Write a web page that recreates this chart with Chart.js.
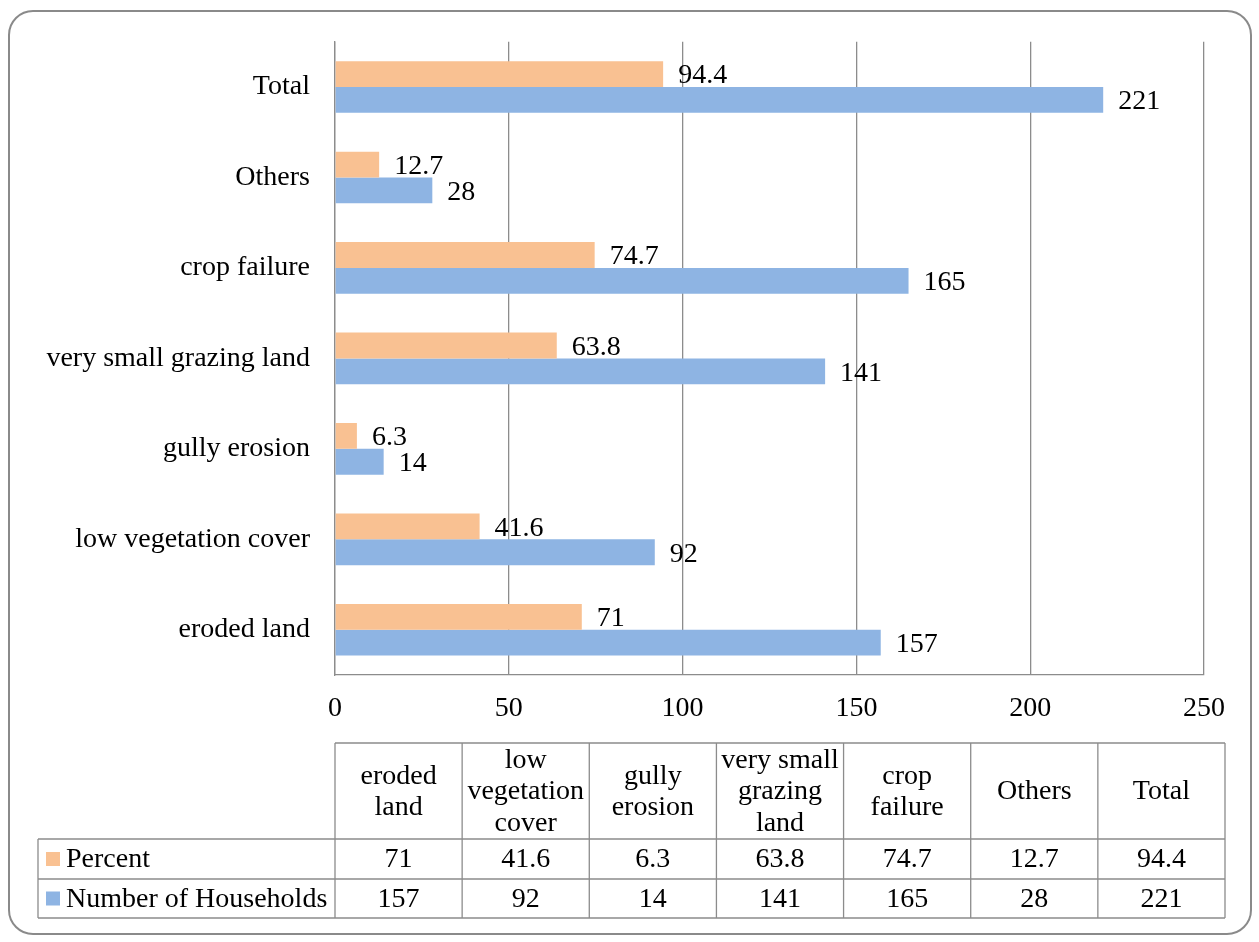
<!DOCTYPE html>
<html>
<head>
<meta charset="utf-8">
<title>Land degradation indicators</title>
<script src="https://cdn.jsdelivr.net/npm/chart.js@4.4.1/dist/chart.umd.min.js"></script>
<style>
  html, body { margin: 0; padding: 0; background: #fff; }
  canvas { display: block; }
</style>
</head>
<body>
<canvas id="degradationChart" width="1259" height="942"></canvas>
<script>
// categories in table order (bottom to top on the chart)
const categories = ['eroded land', 'low vegetation cover', 'gully erosion', 'very small grazing land', 'crop failure', 'Others', 'Total'];
const percentValues = [71, 41.6, 6.3, 63.8, 74.7, 12.7, 94.4];
const householdValues = [157, 92, 14, 141, 165, 28, 221];
const seriesNames = ['Percent', 'Number of Households'];
const seriesColors = ['#F9C192', '#8EB4E3'];
const axisMax = 250;
const axisStep = 50;

const FONT = 'Liberation Serif, Times New Roman, serif';
const FONT_SIZE = 28;
const lineGray = '#8c8c8c';

Chart.defaults.font.family = FONT;
Chart.defaults.font.size = FONT_SIZE;
Chart.defaults.color = '#000';

// rounded frame around the whole figure
const framePlugin = {
    id: 'frame',
    beforeDraw(chart) {
        const ctx = chart.ctx;
        ctx.save();
        ctx.fillStyle = '#fff';
        ctx.fillRect(0, 0, chart.width, chart.height);
        ctx.strokeStyle = '#8a8a8a';
        ctx.lineWidth = 2;
        ctx.beginPath();
        ctx.roundRect(9, 11, 1242, 923, 24);
        ctx.stroke();
        ctx.restore();
    }
};

// value printed to the right of each bar
const valueLabels = {
    id: 'valueLabels',
    afterDatasetsDraw(chart) {
        const ctx = chart.ctx;
        ctx.save();
        ctx.font = FONT_SIZE + 'px ' + FONT;
        ctx.fillStyle = '#000';
        ctx.textAlign = 'left';
        ctx.textBaseline = 'middle';
        chart.data.datasets.forEach((ds, di) => {
            chart.getDatasetMeta(di).data.forEach((bar, i) => {
                ctx.fillText(String(ds.data[i]), bar.x + 15, bar.y + 2);
            });
        });
        ctx.restore();
    }
};

// split a header into lines that fit the column
function wrapText(ctx, text, maxWidth) {
    const words = text.split(' ');
    const lines = [];
    let line = '';
    words.forEach(w => {
        const test = line ? line + ' ' + w : w;
        if (line && ctx.measureText(test).width > maxWidth) {
            lines.push(line);
            line = w;
        } else {
            line = test;
        }
    });
    if (line) lines.push(line);
    return lines;
}

// data table under the axis, with legend keys in the first column
const dataTable = {
    id: 'dataTable',
    afterDraw(chart) {
        const ctx = chart.ctx;
        const left = 38, firstCol = 335, right = 1225;
        const rows = [743, 839, 879, 918];
        const colW = (right - firstCol) / categories.length;

        ctx.save();
        ctx.strokeStyle = lineGray;
        ctx.lineWidth = 1.3;
        ctx.beginPath();
        // horizontal rules
        ctx.moveTo(firstCol, rows[0]); ctx.lineTo(right, rows[0]);
        for (let r = 1; r < rows.length; r++) {
            ctx.moveTo(left, rows[r]); ctx.lineTo(right, rows[r]);
        }
        // vertical rules
        ctx.moveTo(left, rows[1]); ctx.lineTo(left, rows[3]);
        for (let c = 0; c <= categories.length; c++) {
            const x = firstCol + c * colW;
            ctx.moveTo(x, rows[0]); ctx.lineTo(x, rows[3]);
        }
        ctx.stroke();

        ctx.font = FONT_SIZE + 'px ' + FONT;
        ctx.fillStyle = '#000';
        ctx.textBaseline = 'middle';
        ctx.textAlign = 'center';

        // header
        const lh = 31.5;
        const headMid = (rows[0] + rows[1]) / 2;
        categories.forEach((cat, c) => {
            const lines = wrapText(ctx, cat, colW - 4);
            const cx = firstCol + (c + 0.5) * colW;
            lines.forEach((ln, k) => {
                ctx.fillText(ln, cx, headMid + (k - (lines.length - 1) / 2) * lh + 1);
            });
        });

        // series rows
        const rowData = [percentValues, householdValues];
        rowData.forEach((vals, r) => {
            const mid = (rows[r + 1] + rows[r + 2]) / 2 + 1;
            ctx.fillStyle = seriesColors[r];
            ctx.fillRect(46, mid - 8, 14, 14);
            ctx.fillStyle = '#000';
            ctx.textAlign = 'left';
            ctx.fillText(seriesNames[r], 66, mid);
            ctx.textAlign = 'center';
            vals.forEach((v, c) => {
                ctx.fillText(String(v), firstCol + (c + 0.5) * colW, mid);
            });
        });
        ctx.restore();
    }
};

const ctx = document.getElementById('degradationChart').getContext('2d');
const chart = new Chart(ctx, {
    type: 'bar',
    data: {
        labels: categories,
        datasets: [{
            label: seriesNames[0],
            data: percentValues,
            backgroundColor: seriesColors[0],
            borderWidth: 0
        },
        {
            label: seriesNames[1],
            data: householdValues,
            backgroundColor: seriesColors[1],
            borderWidth: 0
        }]
    },
    options: {
        indexAxis: 'y',
        responsive: false,
        animation: false,
        devicePixelRatio: 1,
        categoryPercentage: 0.571,
        barPercentage: 1,
        layout: {
            padding: { top: 40, right: 55, bottom: 197, left: 0 }
        },
        plugins: {
            legend: { display: false },
            tooltip: { enabled: false }
        },
        scales: {
            x: {
                min: 0,
                max: axisMax,
                afterFit(scale) { scale.height = 70; },
                grid: {
                    color: lineGray,
                    lineWidth: 1.3,
                    drawTicks: false
                },
                border: { color: lineGray, width: 1.3 },
                ticks: {
                    stepSize: axisStep,
                    padding: 17
                }
            },
            y: {
                reverse: true,
                afterFit(scale) { scale.width = 335; },
                grid: { display: false, drawTicks: false },
                border: { color: lineGray, width: 1.3 },
                ticks: {
                    padding: 25
                }
            }
        }
    },
    plugins: [framePlugin, valueLabels, dataTable]
});
</script>
</body>
</html>
